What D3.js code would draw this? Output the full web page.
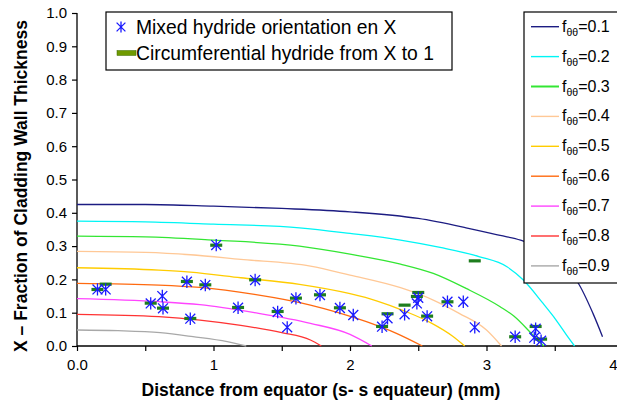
<!DOCTYPE html>
<html><head><meta charset="utf-8">
<script src="https://cdn.jsdelivr.net/npm/d3@7"></script>
<style>
html,body{margin:0;padding:0;background:#fff;}
svg{display:block;font-family:"Liberation Sans",Arial,sans-serif;}
</style></head>
<body>
<svg id="chart" width="617" height="405"></svg>
<script>
// ---- data ----
const curveLabels = ["0.1","0.2","0.3","0.4","0.5","0.6","0.7","0.8","0.9"];
const curveColors = ["#1c1c82","#00f5f5","#33e633","#ffc896","#ffcc00","#ff6a10","#ff44ff","#ff3333","#a8a8a8"];
const curve01 = [[0,0.425],[0.5,0.425],[1.0,0.42],[1.5,0.413],[2.0,0.403],[2.5,0.383],[2.85,0.355],[3.1,0.332],[3.25,0.318],[3.45,0.28],[3.6,0.225],[3.67,0.19],[3.78,0.098],[3.85,0.028]];
const curve02 = [[0,0.375],[0.5,0.373],[1.0,0.366],[1.63,0.355],[2.0,0.338],[2.37,0.318],[2.66,0.296],[2.95,0.268],[3.15,0.238],[3.27,0.198],[3.41,0.13],[3.51,0.078],[3.6,0.025],[3.645,0]];
const curve03 = [[0,0.33],[0.5,0.328],[1.0,0.318],[1.63,0.300],[2.0,0.276],[2.37,0.246],[2.61,0.218],[2.85,0.173],[3.1,0.118],[3.2,0.09],[3.34,0.033],[3.42,0]];
const curve04 = [[0,0.284],[0.5,0.281],[0.83,0.274],[1.2,0.26],[1.71,0.24],[2.0,0.213],[2.37,0.175],[2.61,0.138],[2.80,0.098],[3.0,0.048],[3.11,0]];
const curve05 = [[0,0.235],[0.6,0.228],[0.83,0.222],[1.2,0.205],[1.63,0.185],[2.0,0.157],[2.2,0.135],[2.4,0.105],[2.6,0.068],[2.75,0.03],[2.84,0]];
const curve06 = [[0,0.188],[0.6,0.183],[0.9,0.176],[1.3,0.155],[1.71,0.123],[2.12,0.073],[2.34,0.038],[2.53,0]];
const curve07 = [[0,0.142],[0.6,0.133],[0.9,0.124],[1.3,0.1],[1.71,0.068],[2.0,0.035],[2.16,0]];
const curve08 = [[0,0.095],[0.6,0.088],[0.9,0.078],[1.2,0.062],[1.5,0.04],[1.71,0.018],[1.79,0]];
const curve09 = [[0,0.048],[0.3,0.046],[0.61,0.04],[0.85,0.028],[1.1,0.013],[1.24,0]];
const curves = [curve01,curve02,curve03,curve04,curve05,curve06,curve07,curve08,curve09];

const mixedPts = [[0.15,0.170],[0.21,0.170],[0.54,0.128],[0.625,0.150],[0.63,0.113],[0.805,0.193],[0.83,0.082],[0.94,0.183],[1.02,0.303],[1.18,0.115],[1.305,0.198],[1.47,0.102],[1.54,0.056],[1.604,0.143],[1.78,0.153],[1.926,0.114],[2.024,0.093],[2.235,0.058],[2.275,0.083],[2.40,0.095],[2.50,0.145],[2.49,0.128],[2.565,0.089],[2.714,0.133],[2.83,0.133],[2.914,0.056],[3.21,0.028],[3.36,0.052],[3.35,0.025],[3.40,0.016]];
const circPts = [[0.15,0.170],[0.21,0.186],[0.54,0.129],[0.63,0.114],[0.805,0.194],[0.83,0.083],[0.94,0.184],[1.02,0.303],[1.18,0.116],[1.305,0.199],[1.47,0.104],[1.604,0.144],[1.78,0.154],[1.926,0.115],[2.235,0.059],[2.275,0.097],[2.40,0.123],[2.50,0.161],[2.49,0.149],[2.565,0.090],[2.714,0.133],[2.914,0.256],[3.21,0.028],[3.36,0.059],[3.40,0.021]];

const xTicks = [0,0.5,1,1.5,2,2.5,3,3.5,4];
const yTicks = [0,0.1,0.2,0.3,0.4,0.5,0.6,0.7,0.8,0.9,1.0];
const legendSeries = ["Mixed hydride orientation en X","Circumferential hydride from X to 1"];
const xTitle = "Distance from equator (s- s equateur) (mm)";
const yTitle = "X \u2013 Fraction of Cladding Wall Thickness";

// ---- drawing ----
const svg = d3.select("#chart");
const x = d3.scaleLinear().domain([0,4]).range([77,623]);
const y = d3.scaleLinear().domain([0,1]).range([346,13]);

// axes
const xAxis = d3.axisBottom(x).tickValues(xTicks).tickSize(5)
  .tickFormat(d => d===0 ? "0.0" : (Number.isInteger(d) ? String(d) : ""));
const gx = svg.append("g").attr("transform","translate(0,346)").call(xAxis);
gx.select(".domain").attr("d","M77,0H617").attr("stroke","#000").attr("stroke-width",1.3);
gx.selectAll("line").attr("stroke","#000").attr("stroke-width",1.2);
gx.selectAll("text").attr("font-size",15).attr("fill","#000").attr("dy","1.05em")
  .attr("font-family","'Liberation Sans',Arial,sans-serif");
// last label sits at the cut edge of the picture: keep it inside
gx.selectAll("text").filter(d=>d===4).attr("text-anchor","end").attr("x",-6);

const yAxis = d3.axisLeft(y).tickValues(yTicks).tickSize(5).tickFormat(d3.format(".1f"));
const gy = svg.append("g").attr("transform","translate(77,0)").call(yAxis);
gy.select(".domain").attr("d","M0,13V346").attr("stroke","#000").attr("stroke-width",1.3);
gy.selectAll("line").attr("stroke","#000").attr("stroke-width",1.2);
gy.selectAll("text").attr("font-size",15).attr("fill","#000").attr("x",-10)
  .attr("font-family","'Liberation Sans',Arial,sans-serif");

// titles
svg.append("text").attr("x",321).attr("y",396).attr("text-anchor","middle")
  .attr("font-size",17.5).attr("font-weight","bold").text(xTitle);
svg.append("text").attr("transform","translate(27,186) rotate(-90)").attr("text-anchor","middle")
  .attr("font-size",17.5).attr("font-weight","bold").text(yTitle);

// curves
const line = d3.line().x(d=>x(d[0])).y(d=>y(d[1])).curve(d3.curveMonotoneX);
curves.forEach((c,i)=>{
  svg.append("path").datum(c).attr("d",line).attr("fill","none")
    .attr("stroke",curveColors[i]).attr("stroke-width",1.3);
});

// circumferential dashes
svg.append("g").selectAll("rect").data(circPts).join("rect")
  .attr("x",d=>x(d[0])-6).attr("y",d=>y(d[1])-1.5).attr("width",12).attr("height",3.2)
  .attr("fill","#1e7d1e");

// asterisks
function star(cx,cy,r){
  const a=r*0.8;
  return `M${cx},${cy-r}V${cy+r}M${cx-a},${cy-a}L${cx+a},${cy+a}M${cx-a},${cy+a}L${cx+a},${cy-a}`;
}
svg.append("g").selectAll("path").data(mixedPts).join("path")
  .attr("d",d=>star(x(d[0]),y(d[1]),6.2)).attr("fill","none").attr("stroke","#1a1aff").attr("stroke-width",1.3);

// legend 1
const l1 = svg.append("g");
l1.append("rect").attr("x",106).attr("y",12).attr("width",346).attr("height",58)
  .attr("fill","#fff").attr("stroke","#000").attr("stroke-width",1.2);
l1.append("path").attr("d",star(121,27,5.5)).attr("fill","none").attr("stroke","#1a1aff").attr("stroke-width",1.3);
l1.append("rect").attr("x",117).attr("y",50.5).attr("width",19).attr("height",5).attr("fill","#6f9a00").attr("stroke","#3a6a00").attr("stroke-width",0.5);
l1.append("text").attr("x",136).attr("y",34).attr("font-size",19.3).text(legendSeries[0]);
l1.append("text").attr("x",136).attr("y",60).attr("font-size",19.3).text(legendSeries[1]);

// legend 2
const l2 = svg.append("g");
l2.append("rect").attr("x",524).attr("y",12).attr("width",100).attr("height",271)
  .attr("fill","#fff").attr("stroke","#000").attr("stroke-width",1.2);
curveLabels.forEach((lab,i)=>{
  const cy = 26.7 + i*29.9;
  l2.append("line").attr("x1",531).attr("x2",559).attr("y1",cy).attr("y2",cy)
    .attr("stroke",curveColors[i]).attr("stroke-width",i===2?2:1.4);
  const t = l2.append("text").attr("x",562).attr("y",cy+5).attr("font-size",16);
  t.append("tspan").text("f");
  t.append("tspan").attr("font-size",10.5).attr("dy",4).text("\u03b8\u03b8");
  t.append("tspan").attr("dy",-4).text("="+lab);
});
</script>
</body></html>
